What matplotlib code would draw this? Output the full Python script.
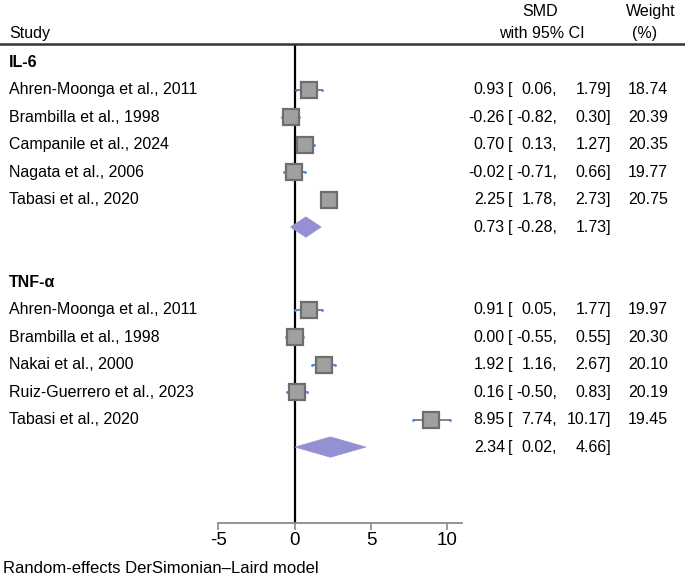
import numpy as np
import matplotlib.pyplot as plt
from matplotlib.lines import Line2D
from matplotlib.patches import Polygon
from matplotlib.transforms import blended_transform_factory

plt.rcParams['font.family'] = ['Liberation Sans', 'DejaVu Sans']

# data
il6_studies = ["Ahren-Moonga et al., 2011", "Brambilla et al., 1998", "Campanile et al., 2024",
               "Nagata et al., 2006", "Tabasi et al., 2020"]
il6_smd = [0.93, -0.26, 0.70, -0.02, 2.25]
il6_lo = [0.06, -0.82, 0.13, -0.71, 1.78]
il6_hi = [1.79, 0.30, 1.27, 0.66, 2.73]
il6_w = [18.74, 20.39, 20.35, 19.77, 20.75]
il6_pool = (0.73, -0.28, 1.73)

tnf_studies = ["Ahren-Moonga et al., 2011", "Brambilla et al., 1998", "Nakai et al., 2000",
               "Ruiz-Guerrero et al., 2023", "Tabasi et al., 2020"]
tnf_smd = [0.91, 0.00, 1.92, 0.16, 8.95]
tnf_lo = [0.05, -0.55, 1.16, -0.50, 7.74]
tnf_hi = [1.77, 0.55, 2.67, 0.83, 10.17]
tnf_w = [19.97, 20.30, 20.10, 20.19, 19.45]
tnf_pool = (2.34, 0.02, 4.66)

groups = [("IL-6", il6_studies, il6_smd, il6_lo, il6_hi, il6_w, il6_pool),
          ("TNF-α", tnf_studies, tnf_smd, tnf_lo, tnf_hi, tnf_w, tnf_pool)]

W, H = 685, 580
fig = plt.figure(figsize=(W / 100, H / 100), dpi=100)
ax = fig.add_axes([218.3 / W, (H - 522.7) / H, (462 - 218.3) / W, (522.7 - 44) / H])
ax.set_xlim(-5, 10.95)
ax.set_ylim(16.75, -0.655)

tr = blended_transform_factory(fig.transFigure, ax.transData)
fs = 11.5
sq_col, sq_edge = '#a0a0a0', '#6e6e6e'
dia_col = '#9590d4'


def fx(px):
    return px / W


def txt(px, k, s, ha='left', size=fs, **kw):
    ax.text(fx(px), k, s, transform=tr, ha=ha, va='center', fontsize=size, **kw)


def values_row(k, est, lo, hi, w=None):
    txt(505, k, f"{est:.2f}", ha='right')
    txt(508, k, "[")
    txt(557, k, f"{lo:.2f},", ha='right')
    txt(611, k, f"{hi:.2f}]", ha='right')
    if w is not None:
        txt(668, k, f"{w:.2f}", ha='right')


ax.axvline(0, color='black', lw=1.6, zorder=1)

k = 0
for name, studies, smd, lo, hi, w, pool in groups:
    txt(9, k, name, fontweight='bold')
    k += 1
    for i in range(len(studies)):
        txt(9, k, studies[i])
        ax.plot([lo[i], hi[i]], [k, k], color='#5f6f8f', lw=1.2, zorder=2,
                solid_capstyle='butt')
        ax.plot([lo[i], hi[i]], [k, k], ls='none', marker='o', ms=1.0,
                color='#4a86e8', zorder=2)
        ax.plot(smd[i], k, marker='s', ms=2.6 * np.sqrt(w[i]), mfc=sq_col,
                mec=sq_edge, mew=1.6, zorder=3)
        values_row(k, smd[i], lo[i], hi[i], w[i])
        k += 1
    est, plo, phi = pool
    h = 0.37
    ax.add_patch(Polygon([(plo, k), (est, k - h), (phi, k), (est, k + h)],
                         closed=True, facecolor=dia_col, edgecolor=dia_col, lw=0.5, zorder=3))
    values_row(k, est, plo, phi)
    k += 2

# header
txt(9, -1.05, "Study")
txt(540, -1.82, "SMD", ha='center')
txt(542, -1.02, "with 95% CI", ha='center')
txt(651, -1.82, "Weight", ha='center')
txt(645, -1.02, "(%)", ha='center')
fig.add_artist(Line2D([0, 1], [-0.655, -0.655], transform=tr, color='#333333', lw=1.8,
                      clip_on=False))

txt(3, 18.4, "Random-effects DerSimonian–Laird model", size=12)

for s in ['top', 'right', 'left']:
    ax.spines[s].set_visible(False)
ax.spines['bottom'].set_color('#8a8a8a')
ax.spines['bottom'].set_linewidth(1.3)
ax.set_yticks([])
ax.set_xticks([-5, 0, 5, 10])
ax.set_xticklabels(["-5", "0", "5", "10"])
ax.tick_params(axis='x', direction='out', length=5, width=1.2, color='#8a8a8a',
               labelsize=13.5, pad=2)

fig.savefig("out.png", dpi=100)
